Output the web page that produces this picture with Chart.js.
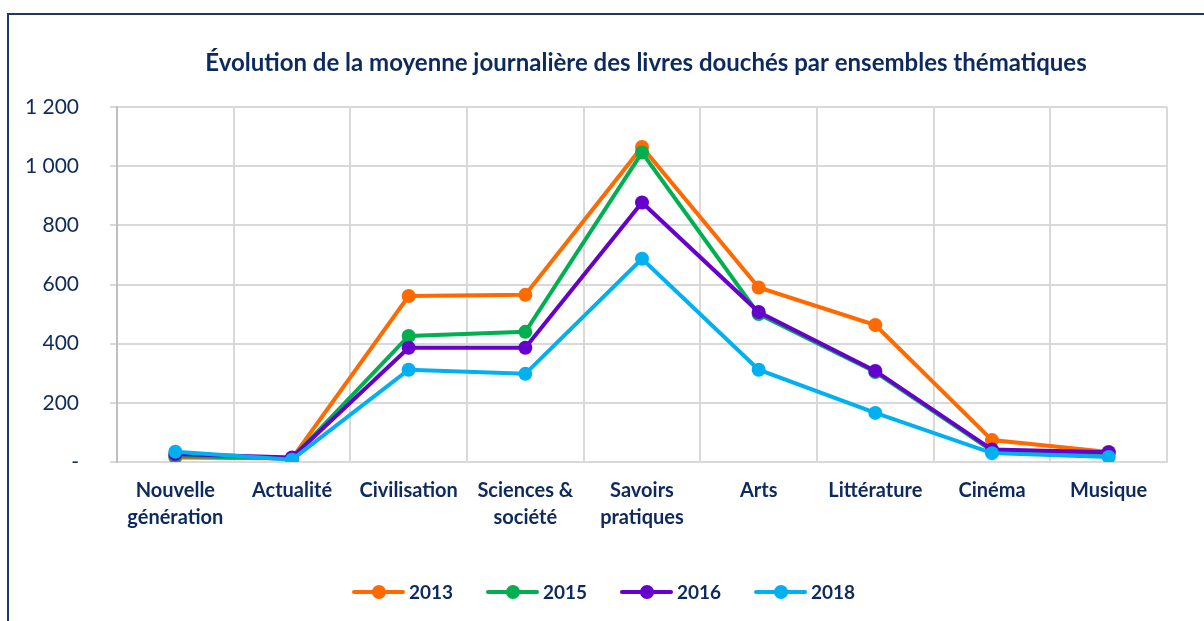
<!DOCTYPE html>
<html>
<head>
<meta charset="utf-8">
<script src="https://cdn.jsdelivr.net/npm/chart.js@4"></script>
<style>
  html, body { margin: 0; padding: 0; background: #fff; }
  #wrap { width: 1204px; height: 621px; }
</style>
</head>
<body>
<div id="wrap"><canvas id="chart" width="1204" height="621"></canvas></div>
<script>
const categories = [
  ['Nouvelle', 'génération'], 'Actualité', 'Civilisation', ['Sciences &', 'société'],
  ['Savoirs', 'pratiques'], 'Arts', 'Littérature', 'Cinéma', 'Musique'
];
const years = ['2013', '2015', '2016', '2018'];
const data2013 = [15, 12, 561, 565, 1065, 590, 463, 74, 34];
const data2015 = [20, 12, 426, 440, 1046, 500, 304, 38, 28];
const data2016 = [27, 15, 386, 386, 877, 507, 308, 42, 33];
const data2018 = [35, 8, 312, 298, 687, 312, 166, 30, 17];
const yTicks = [0, 200, 400, 600, 800, 1000, 1200];

const colors = ['#FF6A00', '#00B050', '#6600CC', '#00B0F0'];
const navy = '#0D2A5E';
const font = 'Lato';

function fmt(v) {
  if (v === 0) return '-';
  return String(v).replace(/\B(?=(\d{3})+(?!\d))/g, ' ');
}

const series = [data2013, data2015, data2016, data2018];

const framePlugin = {
  id: 'frame',
  beforeDraw(chart) {
    const c = chart.ctx;
    c.save();
    c.fillStyle = '#fff';
    c.fillRect(0, 0, chart.width, chart.height);
    c.strokeStyle = '#1F3864';
    c.lineWidth = 2;
    c.beginPath();
    c.moveTo(8, chart.height);
    c.lineTo(8, 14);
    c.lineTo(chart.width, 14);
    c.stroke();
    c.restore();
  },
  afterDraw(chart) {
    const c = chart.ctx;
    c.save();
    // title
    c.fillStyle = navy;
    c.font = 'bold 24px ' + font;
    c.textAlign = 'center';
    c.textBaseline = 'middle';
    c.fillText('Évolution de la moyenne journalière des livres douchés par ensembles thématiques', 646, 63);
    // legend
    const y = 592;
    let x = 354;
    chart.data.datasets.forEach(ds => {
      c.strokeStyle = ds.borderColor;
      c.lineWidth = 4;
      c.lineCap = 'round';
      c.beginPath();
      c.moveTo(x, y);
      c.lineTo(x + 49, y);
      c.stroke();
      c.fillStyle = ds.borderColor;
      c.beginPath();
      c.arc(x + 25, y, 7, 0, Math.PI * 2);
      c.fill();
      c.fillStyle = navy;
      c.font = 'bold 19px ' + font;
      c.textAlign = 'left';
      c.fillText(ds.label, x + 55, y + 1);
      x += 134;
    });
    c.restore();
  }
};

new Chart(document.getElementById('chart'), {
  type: 'line',
  data: {
    labels: categories,
    datasets: years.map((yr, i) => ({
      label: yr,
      data: series[i],
      order: years.length - 1 - i,
      borderColor: colors[i],
      backgroundColor: colors[i],
      borderWidth: 4,
      pointRadius: 7,
      pointHoverRadius: 7,
      pointBorderWidth: 0,
      tension: 0
    }))
  },
  options: {
    responsive: false,
    animation: false,
    layout: { padding: { left: 0, right: 37, top: 107, bottom: 69 } },
    plugins: {
      legend: { display: false },
      title: { display: false },
      tooltip: { enabled: false }
    },
    scales: {
      x: {
        offset: true,
        grid: { offset: true, color: '#D9D9D9', lineWidth: 2, drawTicks: false },
        border: { color: '#D9D9D9', width: 2 },
        ticks: {
          color: navy,
          font: { family: font, size: 20, weight: 'bold', lineHeight: 1.35 },
          padding: 15,
          maxRotation: 0,
          autoSkip: false
        },
        afterFit(scale) { scale.height = 90; }
      },
      y: {
        min: 0,
        max: 1200,
        afterBuildTicks(scale) { scale.ticks = yTicks.map(v => ({ value: v })); },
        grid: { color: '#D9D9D9', lineWidth: 2, tickLength: 7 },
        border: { color: '#BFBFBF', width: 2 },
        ticks: {
          color: navy,
          font: { family: font, size: 21 },
          padding: 31,
          callback: v => fmt(v)
        },
        afterFit(scale) { scale.width = 117; }
      }
    }
  },
  plugins: [framePlugin]
});
</script>
</body>
</html>
